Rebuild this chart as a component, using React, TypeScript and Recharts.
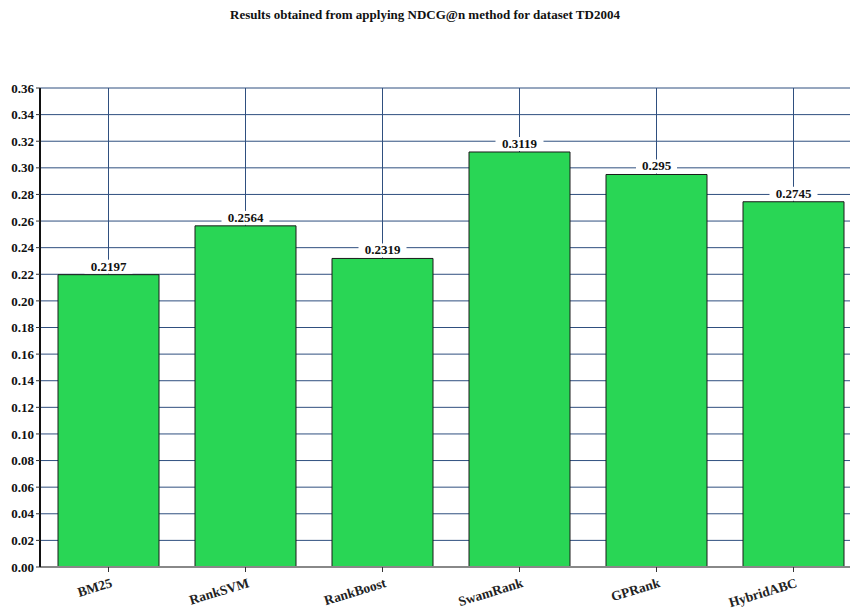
import { BarChart, Bar, XAxis, YAxis, CartesianGrid, LabelList } from 'recharts';

const methods = ['BM25', 'RankSVM', 'RankBoost', 'SwamRank', 'GPRank', 'HybridABC'];
const ndcgValues = [0.2197, 0.2564, 0.2319, 0.3119, 0.295, 0.2745];
const yTicks = [0, 0.02, 0.04, 0.06, 0.08, 0.1, 0.12, 0.14, 0.16, 0.18, 0.2, 0.22, 0.24, 0.26, 0.28, 0.3, 0.32, 0.34, 0.36];

const data = methods.map((m, i) => ({ name: m, value: ndcgValues[i] }));

const serif = '"Liberation Serif", "Times New Roman", serif';

function ValueLabel(props: any) {
  const { x, y, width, value } = props;
  const cx = x + width / 2;
  const text = String(value);
  const w = text.length * 7 + 6;
  return (
    <g>
      <rect x={cx - w / 2} y={y - 15} width={w} height={14} fill="#fff" />
      <text x={cx} y={y - 4} textAnchor="middle" fontFamily={serif} fontWeight="bold" fontSize={13} fill="#111">
        {text}
      </text>
    </g>
  );
}

function XTick(props: any) {
  const { x, y, payload } = props;
  return (
    <g transform={`translate(${x + 2},${y + 5})`}>
      <text transform="rotate(-17)" textAnchor="end" fontFamily={serif} fontWeight="bold" fontSize={13.5} fill="#222" dy={8}>
        {payload.value}
      </text>
    </g>
  );
}

export default function App() {
  return (
    <div style={{ position: 'absolute', left: 0, top: 0, width: 850, height: 609, overflow: 'hidden', background: '#fff' }}>
      <div style={{ position: 'absolute', top: 7, width: 850, textAlign: 'center', fontFamily: serif, fontWeight: 'bold', fontSize: 13, color: '#111' }}>
        Results obtained from applying NDCG@n method for dataset TD2004
      </div>
      <BarChart width={862} height={609} data={data} margin={{ top: 88, right: 0, bottom: 12, left: 0 }}>
        <CartesianGrid stroke="#2f4f7f" strokeWidth={1} />
        <XAxis
          dataKey="name"
          tick={<XTick />}
          height={30}
          axisLine={{ stroke: '#888', strokeWidth: 2 }}
          tickLine={{ stroke: '#333' }}
          tickSize={5}
          interval={0}
        />
        <YAxis
          domain={[0, 0.36]}
          ticks={yTicks}
          width={40}
          interval={0}
          tickFormatter={(v: number) => v.toFixed(2)}
          tick={{ fontFamily: serif, fontWeight: 'bold', fontSize: 13, fill: '#111' }}
          axisLine={{ stroke: '#111', strokeWidth: 2 }}
          tickLine={{ stroke: '#333' }}
          tickSize={4}
        />
        <Bar dataKey="value" fill="#29d655" stroke="#1a1a1a" strokeWidth={1} barSize={101} isAnimationActive={false}>
          <LabelList dataKey="value" content={<ValueLabel />} />
        </Bar>
      </BarChart>
    </div>
  );
}
